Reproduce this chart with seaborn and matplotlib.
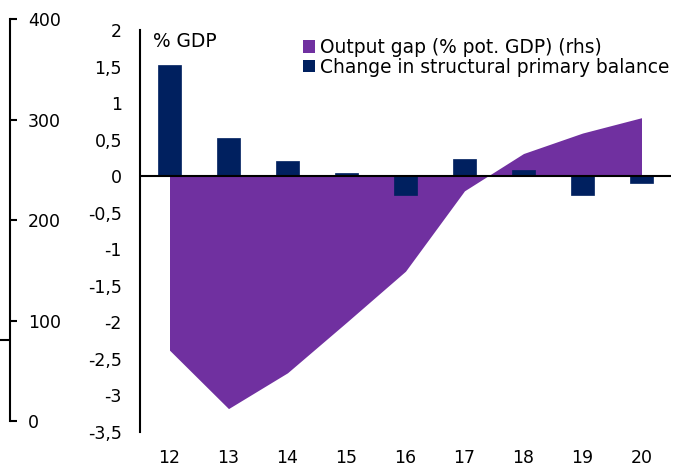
import numpy as np
import pandas as pd
import matplotlib
matplotlib.use("Agg")
import matplotlib.pyplot as plt
from matplotlib.patches import Patch
from matplotlib.ticker import FuncFormatter
import seaborn as sns

# ---- data ----
years = ["12", "13", "14", "15", "16", "17", "18", "19", "20"]
structural_change = [1.52, 0.52, 0.21, 0.05, -0.26, 0.24, 0.08, -0.26, -0.09]
output_gap = [-2.38, -3.18, -2.69, -2.0, -1.30, -0.20, 0.31, 0.59, 0.80]
left_ticks = [-3.5, -3, -2.5, -2, -1.5, -1, -0.5, 0, 0.5, 1, 1.5, 2]
outer_ticks = [0, 100, 200, 300, 400]
outer_minor = [80.6]

series_bar = "Change in structural primary balance"
series_area = "Output gap (% pot. GDP) (rhs)"

df = pd.DataFrame({"year": years, "change": structural_change, "gap": output_gap})

sns.set_theme(style="white")
plt.rcParams["font.family"] = ["DejaVu Sans"]
plt.rcParams["text.color"] = "black"
FS = 12.5
FS_TXT = 13.4
navy = "#00205F"
purple = "#7030A0"

fig = plt.figure(figsize=(6.75, 4.68), dpi=100)
ax = fig.add_axes([140 / 675, (468 - 432) / 468, 531 / 675, 402 / 468])

# area (output gap) at category positions
xpos = np.arange(len(years))
ax.fill_between(xpos, df["gap"], 0, color=purple, linewidth=0, zorder=1)

sns.barplot(data=df, x="year", y="change", color=navy, width=0.4,
            saturation=1, ax=ax, zorder=3, edgecolor=navy, linewidth=0.5)

ax.axhline(0, color="black", lw=1.5, zorder=5)
ax.set_xlim(-0.5, len(years) - 0.5)
ax.set_ylim(-3.5, 2)
ax.set_yticks(left_ticks)
ax.yaxis.set_major_formatter(FuncFormatter(lambda v, p: f"{v:g}".replace(".", ",")))
ax.set_xlabel("")
ax.set_ylabel("")
for s in ["top", "right", "bottom"]:
    ax.spines[s].set_visible(False)
ax.spines["left"].set_color("black")
ax.spines["left"].set_linewidth(1.5)
ax.tick_params(axis="y", length=0, pad=13, labelsize=FS, colors="black")
ax.tick_params(axis="x", length=0, pad=12, labelsize=FS, colors="black")

ax.text(0.025, 0.995, "% GDP", transform=ax.transAxes, fontsize=FS_TXT,
        ha="left", va="top", color="black")

handles = [Patch(facecolor=purple, edgecolor="none", label=series_area),
           Patch(facecolor=navy, edgecolor="none", label=series_bar)]
leg = ax.legend(handles=handles, loc="upper right", bbox_to_anchor=(1.0, 0.985),
                frameon=False, fontsize=FS_TXT, handlelength=0.65, handleheight=0.65,
                handletextpad=0.25, borderaxespad=0.0, borderpad=0.1, labelspacing=0.05)
for t in leg.get_texts():
    t.set_color("black")

# far-left outer axis 0..400
ax3 = fig.add_axes([10 / 675, (468 - 421) / 468, 0.0001, 402 / 468])
ax3.set_ylim(0, 400)
ax3.set_yticks(outer_ticks)
ax3.set_yticks(outer_minor, minor=True)
for s in ["top", "right", "bottom"]:
    ax3.spines[s].set_visible(False)
ax3.spines["left"].set_color("black")
ax3.spines["left"].set_linewidth(1.5)
ax3.set_xticks([])
ax3.patch.set_alpha(0)
ax3.tick_params(axis="y", which="major", direction="in", length=5, width=1.5,
                left=True, right=False, labelleft=False, labelright=True,
                pad=13, labelsize=FS, colors="black")
ax3.tick_params(axis="y", which="minor", direction="out", length=9, width=1.5,
                left=True, right=False, labelleft=False, labelright=False,
                colors="black")

fig.savefig("out.png", dpi=100, facecolor="white")
